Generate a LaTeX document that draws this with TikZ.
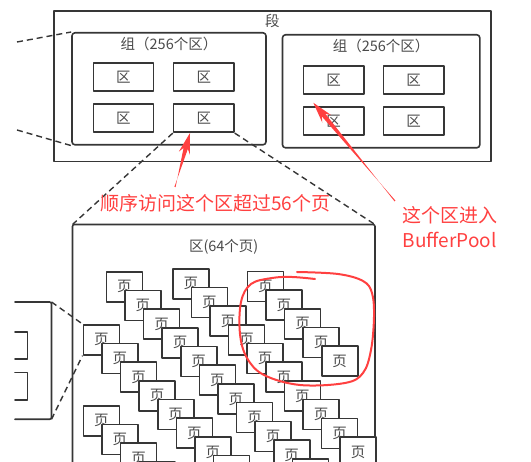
\documentclass[tikz,border=0pt]{standalone}
\usepackage{fontspec}
\setmainfont{Noto Sans CJK SC}
\usepackage{xcolor}
\usetikzlibrary{calc}
\definecolor{lineGray}{HTML}{363636}
\definecolor{textGray}{HTML}{4A4A4A}
\definecolor{noteRed}{HTML}{FF4040}
\def\stepX{18.6}
\def\stepY{18.7}
\newcommand\notearrow[2]{%
	\fill[noteRed] ($(#1)!0.6pt!90:(#2)$) -- ($(#2)!16pt!(#1)!2.2pt!90:(#1)$) -- ($(#2)!21pt!(#1)!5.8pt!90:(#1)$) -- (#2)
		-- ($(#2)!21pt!(#1)!5.8pt!-90:(#1)$) -- ($(#2)!16pt!(#1)!2.2pt!-90:(#1)$) -- ($(#1)!0.6pt!-90:(#2)$) -- cycle;}

\begin{document}
\begin{tikzpicture}[x=1pt, y=-1pt, line cap=round, line join=round,
	boxline/.style={draw=lineGray, line width=1.6pt},
	caption/.style={text=textGray, font=\fontsize{14.5}{15}\selectfont, inner sep=0pt},
	groupbox/.style={boxline, rounded corners=3pt, anchor=north west, inner sep=0pt},
	extbox/.style={boxline, caption, anchor=north west, minimum width=60.3, minimum height=28.5},
	pagebox/.style={boxline, caption, fill=white, anchor=north west, minimum width=36, minimum height=30},
	linkline/.style={lineGray, line width=1.4pt, dash pattern=on 6pt off 4pt, line cap=butt},
	note/.style={text=noteRed, font=\fontsize{19}{25}\selectfont, align=center, inner sep=0pt}]
	\useasboundingbox (0,0) rectangle (531,462);
	\clip (0,0) rectangle (531,462);

	\node[groupbox, sharp corners, minimum width=437, minimum height=150.7] (seg) at (53,10) {};
	\node[caption] (segTitle) at ($(seg.north)+(0,10.5)$) {段};
	\node[groupbox, minimum width=194, minimum height=112] (grpL) at (71.2,32) {};
	\node[groupbox, minimum width=197.3, minimum height=113] (grpR) at (281.7,34) {};
	\node[caption] (grpLTitle) at ($(grpL.north)+(0,12)$) {组（256个区）};
	\node[caption] (grpRTitle) at ($(grpR.north)+(0,12)$) {组（256个区）};
	\foreach \ex/\ey/\nm in {92.5/62/eL1, 172.8/62/eL2, 92.5/103/eL3, 172.8/103/eL4, 302.7/65/eR1, 382.7/65/eR2, 302.7/106/eR3, 382.7/106/eR4} {
		\node[extbox] (\nm) at (\ex,\ey) {区};
	}

	\coordinate (offA) at (17,42);
	\coordinate (offB) at (17,130);
	\draw[linkline] (offA) -- (grpL.north west);
	\draw[linkline] (offB) -- (grpL.south west);

	\coordinate (extTL) at (72.5,224.5);
	\coordinate (extTR) at (375,224.5);
	\draw[boxline, rounded corners=2pt] (72.5,480) -- (extTL) -- (extTR) -- (375,480);
	\node[caption] (extTitle) at (223.7,247) {区(64个页)};
	\draw[linkline] (eL4.south west) -- (extTL);
	\draw[linkline] (eL4.south east) -- (extTR);

	\foreach \sx/\sy/\n [count=\c] in {105.5/271/10, 172/268/9, 246.5/270.7/4, 82.5/324/7, 82.5/405/3} {
		\foreach \k in {0,...,\n} {
			\node[pagebox] (p\c-\k) at ({\sx+\k*\stepX},{\sy+\k*\stepY}) {页};
		}
	}

	\draw[boxline, rounded corners=2pt] (15,302) -- (51.5,302) -- (51.5,419.3) -- (15,419.3);
	\draw[boxline] (15,332) -- (27.3,332) -- (27.3,359.3) -- (15,359.3);
	\draw[boxline] (15,372.7) -- (27.3,372.7) -- (27.3,400) -- (15,400);
	\coordinate (leftTop) at (51.5,302);
	\coordinate (leftBot) at (51.5,419.3);
	\draw[linkline] (leftTop) -- (p4-0.north west);
	\draw[linkline] (leftBot) -- (p4-0.south west);

	\draw[noteRed, line width=2pt] plot[smooth, tension=0.6] coordinates {(315,279) (292,277) (272,278) (251,284) (241,302) (240,334) (247,358) (264,375) (300,385) (345,383) (363,373) (371,350) (374,317) (372,293) (363,281) (338,274) (297,272)};

	\node[note] (seqNote) at (215.3,203.5) {顺序访问这个区超过56个页};
	\node[note] (poolNote) at (449.5,227.5) {这个区进入\\BufferPool};
	\coordinate (tailA) at (175,187);
	\coordinate (tipA) at (190,133);
	\coordinate (tailB) at (395,201);
	\coordinate (tipB) at (313.3,102.7);
	\notearrow{tailA}{tipA}
	\notearrow{tailB}{tipB}
\end{tikzpicture}
\end{document}
